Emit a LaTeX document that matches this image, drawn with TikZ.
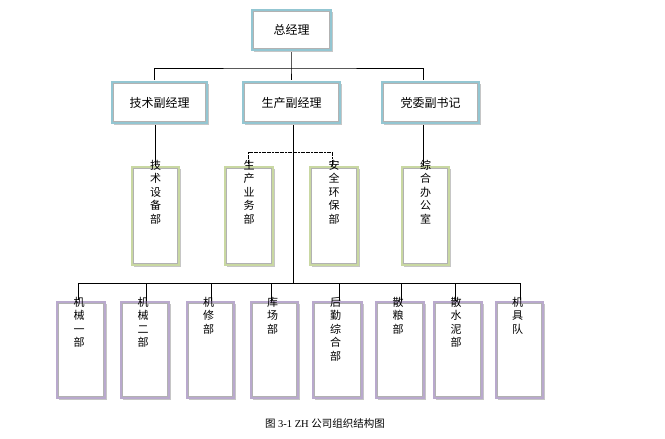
\documentclass[tikz,border=0pt]{standalone}
\usepackage{fontspec}
\setmainfont{Liberation Serif}
\newfontfamily\cjk{Noto Sans CJK SC}
\begin{document}
\begin{tikzpicture}[x=1pt,y=-1pt,
 bx/.style={draw=#1,line width=2.2pt,inner sep=0pt},
 ln/.style={line width=1pt,black},
 lab/.style={font=\cjk\fontsize{11}{13.5}\selectfont,align=center,inner sep=0pt}]
\useasboundingbox (0,0) rectangle (665,439);
\definecolor{cb}{HTML}{93C6D2}\definecolor{cg}{HTML}{C9D8A2}\definecolor{cp}{HTML}{B9A9CD}
\newcommand{\mybox}[6]{% name, x1,y1,x2,y2,color
 \fill[gray!45] (#2+2,#3+2) rectangle (#4+2,#5+2);
 \draw[bx=#6,fill=white] (#2,#3) rectangle (#4,#5);
 \draw[gray!60,line width=0.4pt] (#2+1.5,#3+1.5) rectangle (#4-1.5,#5-1.5);
 \coordinate (#1t) at ({(#2+#4)/2},#3);
 \coordinate (#1b) at ({(#2+#4)/2},#5);
 \coordinate (#1c) at ({(#2+#4)/2},{(#3+#5)/2});}
% connectors first
\coordinate (h1l) at (154,68); \coordinate (h1r) at (423,68);
\coordinate (h1m) at (291,68);
\draw[ln] (154,80) |- (h1m) -| (423,80);
\draw[ln] (291,50) -- (h1m) -- (291,80);
\draw[ln,line width=0.7pt] (155,123) -- (155,167);
\draw[ln,line width=0.7pt] (423,123) -- (423,167);
\draw[line width=1pt,dash pattern=on 2pt off 0.6pt] (248,167) |- (332,152) -- (332,167);
\draw[ln,line width=0.7pt] (293,123) -- (293,283);
\draw[ln] (78,300) |- (520,283) -- (520,300);
\foreach \x in {146,211,271,339,401,455} \draw[line width=0.7pt] (\x,283)--(\x,302);
\mybox{gm}{252}{10}{331}{50}{cb}
\node[lab,font=\cjk\fontsize{12}{14}\selectfont] (gmn) at (gmc) {总经理};
\mybox{a}{112}{82}{207}{123}{cb}\node[lab,font=\cjk\fontsize{12}{14}\selectfont] (an) at (ac) {技术副经理};
\mybox{b}{243}{82}{340}{123}{cb}\node[lab,font=\cjk\fontsize{12}{14}\selectfont] (bn) at (bc) {生产副经理};
\mybox{c}{382}{82}{479}{123}{cb}\node[lab,font=\cjk\fontsize{12}{14}\selectfont] (cn) at (cc) {党委副书记};
\mybox{d}{132}{167}{179}{265}{cg}\node[lab,anchor=north] (dn) at ([yshift=7]dt) {技\\术\\设\\备\\部};
\mybox{e}{225}{167}{273}{265}{cg}\node[lab,anchor=north] (en) at ([yshift=7]et) {生\\产\\业\\务\\部};
\mybox{f}{310}{167}{358}{265}{cg}\node[lab,anchor=north] (fn) at ([yshift=7]ft) {安\\全\\环\\保\\部};
\mybox{g}{402}{167}{449}{265}{cg}\node[lab,anchor=north] (gn) at ([yshift=7]gt) {综\\合\\办\\公\\室};
\foreach \n/\xa/\xb/\t in {p1/57/105/{机\\械\\一\\部},p2/121/169/{机\\械\\二\\部},p3/187/234/{机\\修\\部},p4/251/298/{库\\场\\部},p5/313/362/{后\\勤\\综\\合\\部},p6/376/424/{散\\粮\\部},p7/434/482/{散\\水\\泥\\部},p8/496/543/{机\\具\\队}}{
 \mybox{\n}{\xa}{302}{\xb}{398}{cp}
 \node[lab,anchor=north] (\n n) at ([xshift=-2,yshift=5]\n t) {\t};}
\node[font=\fontsize{10.5}{12}\selectfont,inner sep=0pt] (cap) at (325,424) {{\cjk 图} 3-1 ZH {\cjk 公司组织结构图}};
\end{tikzpicture}
\end{document}
